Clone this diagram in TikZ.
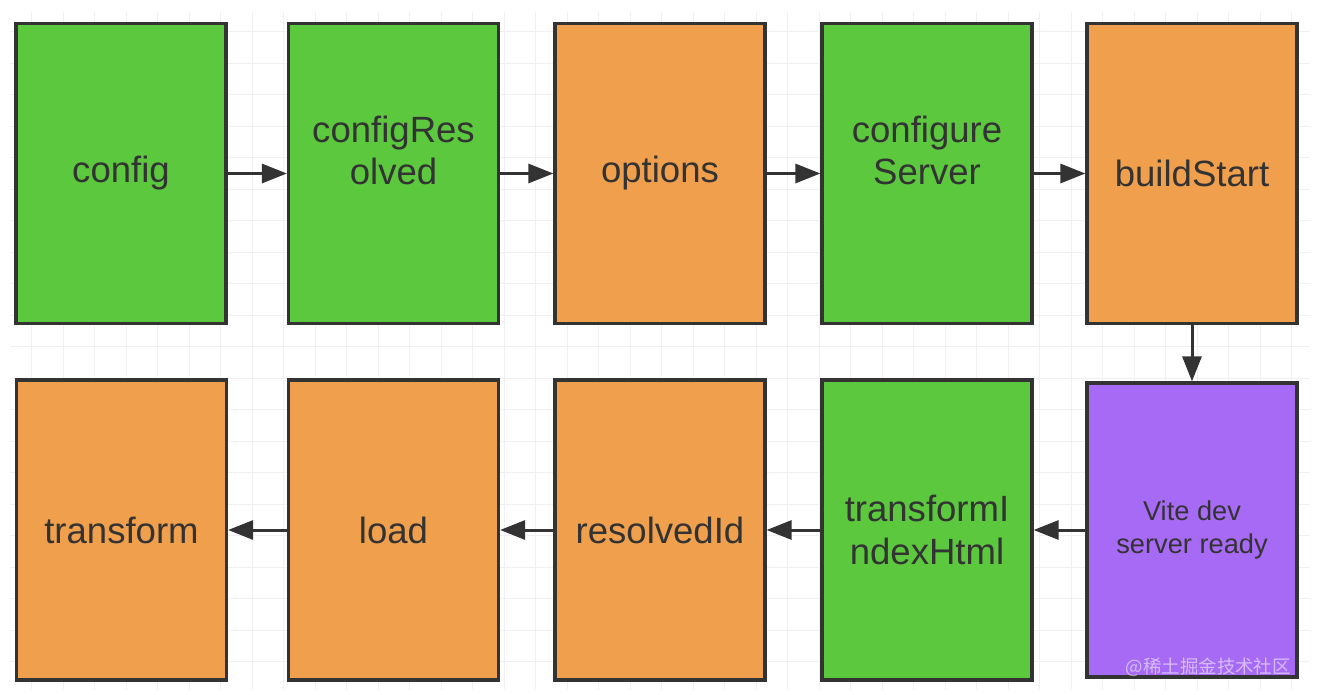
\documentclass[tikz,border=0pt]{standalone}
\usepackage{fontspec}
\setmainfont{Liberation Sans}
\newfontfamily\cjkfont{Noto Sans CJK SC}
\usetikzlibrary{arrows.meta, positioning}

\definecolor{hookgreen}{HTML}{5CC83E}
\definecolor{hookorange}{HTML}{F0A04C}
\definecolor{hookpurple}{HTML}{A66AF4}
\definecolor{inkgray}{HTML}{333333}

\begin{document}
\begin{tikzpicture}[
  hookbox/.style={rectangle, draw=inkgray, line width=0.065cm,
    minimum width=4.2cm, minimum height=6cm, align=center,
    font=\fontsize{20.8}{24}\selectfont, text=inkgray},
  raised/.style={text height=0.5cm, text depth=0.06cm},
  arr/.style={-{Triangle[length=0.5cm, width=0.38cm]}, line width=0.06cm, inkgray},
  gridline/.style={draw=black!6, line width=0.02cm}
]
% === Canvas and faint grid ===
\useasboundingbox[fill=white] (0,0) rectangle (26.36,-13.88);
\draw[gridline, step=0.63] (0.2,-13.8) grid (26.2,-0.24);
% === Top row: left to right ===
\node[hookbox, fill=hookgreen] (config) at (2.42,-3.47) {config};
\node[hookbox, raised, fill=hookgreen] (resolved) at (7.87,-3.47) {configRes\\olved};
\node[hookbox, fill=hookorange] (options) at (13.2,-3.47) {options};
\node[hookbox, raised, fill=hookgreen] (server) at (18.54,-3.47) {configure\\Server};
\node[hookbox, fill=hookorange] (start) at (23.84,-3.47) {buildStart};
% === Bottom row: right to left ===
\node[hookbox, fill=hookpurple, minimum height=5.88cm,
  font=\fontsize{15.5}{18.7}\selectfont] (ready) at (23.84,-10.6) {Vite dev\\server ready};
\node[hookbox, fill=hookgreen] (indexhtml) at (18.54,-10.6) {transformI\\ndexHtml};
\node[hookbox, fill=hookorange] (resolveid) at (13.2,-10.6) {resolvedId};
\node[hookbox, fill=hookorange] (load) at (7.87,-10.6) {load};
\node[hookbox, fill=hookorange] (transform) at (2.43,-10.6) {transform};
% === Arrows ===
\draw[arr] (config) -- (resolved);
\draw[arr] (resolved) -- (options);
\draw[arr] (options) -- (server);
\draw[arr] (server) -- (start);
\draw[arr] (start) -- (ready);
\draw[arr] (ready) -- (indexhtml);
\draw[arr] (indexhtml) -- (resolveid);
\draw[arr] (resolveid) -- (load);
\draw[arr] (load) -- (transform);
% === Watermark ===
\node[font=\cjkfont\fontsize{10.5}{12}\selectfont, text=white, opacity=0.55,
  anchor=south east] (mark) at (25.94,-13.65) {@稀土掘金技术社区};
\end{tikzpicture}
\end{document}
